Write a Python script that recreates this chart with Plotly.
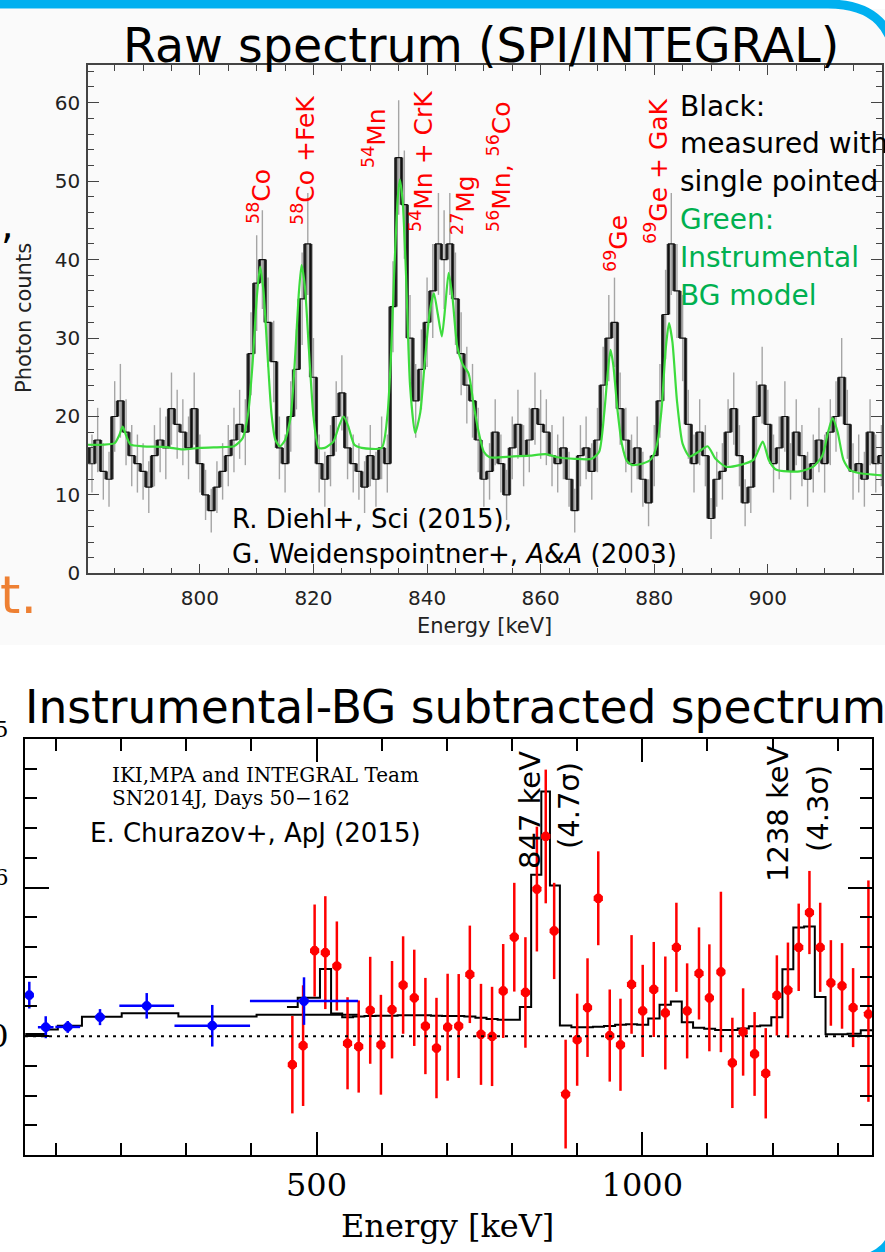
import plotly.graph_objects as go

W, H = 885, 1252

# ---------------- Top panel: raw SPI/INTEGRAL spectrum ----------------
raw_energy_kev = list(range(780, 921))
raw_counts = [
    16, 14, 17, 13, 12, 20, 22, 18, 15, 14,
    13, 11, 15, 17, 16, 21, 19, 18, 16, 21,
    14, 10, 8, 11, 13, 15, 17, 19, 18, 28,
    37, 40, 32, 27, 16, 14, 20, 26, 35, 42,
    25, 14, 12, 15, 20, 23, 16, 14, 13, 11,
    15, 12, 16, 14, 34, 53, 47, 30, 22, 26,
    32, 36, 42, 40, 42, 35, 28, 24, 22, 17,
    12, 13, 18, 14, 10, 16, 19, 15, 17, 21,
    19, 18, 15, 14, 16, 12, 8, 15, 16, 13,
    17, 24, 30, 32, 21, 17, 14, 16, 12, 9,
    15, 22, 33, 42, 36, 30, 19, 14, 18, 15,
    7, 12, 13, 18, 21, 15, 9, 11, 20, 24,
    19, 14, 16, 20, 13, 18, 15, 12, 14, 17,
    14, 18, 20, 25, 19, 13, 14, 12, 18, 14,
    15,
]
raw_err = [
    4.0, 3.7, 4.1, 3.6, 3.5, 4.5, 4.7, 4.2, 3.9, 3.7,
    3.6, 3.3, 3.9, 4.1, 4.0, 4.6, 4.4, 4.2, 4.0, 4.6,
    3.7, 3.2, 2.8, 3.3, 3.6, 3.9, 4.1, 4.4, 4.2, 5.3,
    6.1, 6.3, 5.7, 5.2, 4.0, 3.7, 4.5, 5.1, 5.9, 6.5,
    5.0, 3.7, 3.5, 3.9, 4.5, 4.8, 4.0, 3.7, 3.6, 3.3,
    3.9, 3.5, 4.0, 3.7, 5.8, 7.3, 6.9, 5.5, 4.7, 5.1,
    5.7, 6.0, 6.5, 6.3, 6.5, 5.9, 5.3, 4.9, 4.7, 4.1,
    3.5, 3.6, 4.2, 3.7, 3.2, 4.0, 4.4, 3.9, 4.1, 4.6,
    4.4, 4.2, 3.9, 3.7, 4.0, 3.5, 2.8, 3.9, 4.0, 3.6,
    4.1, 4.9, 5.5, 5.7, 4.6, 4.1, 3.7, 4.0, 3.5, 3.0,
    3.9, 4.7, 5.7, 6.5, 6.0, 5.5, 4.4, 3.7, 4.2, 3.9,
    2.6, 3.5, 3.6, 4.2, 4.6, 3.9, 3.0, 3.3, 4.5, 4.9,
    4.4, 3.7, 4.0, 4.5, 3.6, 4.2, 3.9, 3.5, 3.7, 4.1,
    3.7, 4.2, 4.5, 5.0, 4.4, 3.6, 3.7, 3.5, 4.2, 3.7,
    3.9,
]
bg_model_energy = [
    780, 783, 785, 785.8, 786.4, 787.0, 787.8, 790, 794, 797, 800, 804, 806,
    807.5, 808.5, 809.3, 810.0, 810.6, 811.2, 811.9, 812.6, 813.3, 814.1,
    815, 816.0, 816.8, 817.4, 817.9, 818.5, 819.2, 820.0, 820.9, 822,
    823.5, 824.5, 825.3, 826.1, 827.2, 828.5, 832,
    833.0, 833.6, 834.2, 834.8, 835.2, 835.7, 836.3, 837.0, 837.9,
    838.8, 839.6, 840.5, 841.2, 841.9, 842.6, 843.2, 843.8, 844.5, 845.3,
    846.3, 847.3, 848.2, 849.0, 850.0, 851, 855, 858, 860.9, 863, 866, 869,
    870.3, 871.2, 871.8, 872.3, 872.8, 873.5, 874.3, 875.2, 876.2, 878,
    879.5, 880.5, 881.3, 882.0, 882.6, 883.2, 884.0, 885.0, 886.2, 887.8,
    889.4, 890.8, 892.6, 895, 897.5, 899.1, 900.2, 901.5, 905.6, 908,
    909.6, 910.6, 911.4, 912.3, 913.3, 914.4, 916, 920.1,
]
bg_model_counts = [
    16.4, 16.4, 16.6, 17.6, 18.7, 17.6, 16.4, 16.2, 16.1, 15.8, 16.0, 16.1, 16.2,
    17.2, 20.4, 27.0, 35.0, 39.1, 36.0, 28.0, 20.4, 17.0, 16.2,
    17.0, 20.0, 28.0, 35.5, 39.3, 36.5, 28.5, 20.0, 16.0, 16.0,
    16.8, 18.8, 20.0, 18.8, 16.4, 16.0, 16.0,
    20.0, 27.0, 38.0, 47.5, 50.2, 47.5, 38.0, 24.0, 17.9,
    20.5, 27.0, 33.5, 35.7, 33.0, 30.2, 34.0, 38.3, 35.0, 29.0,
    26.6, 25.5, 21.5, 18.3, 15.5, 14.8, 14.9, 15.0, 15.2, 14.8, 14.6, 14.6,
    15.5, 20.5, 25.5, 28.5, 26.5, 21.0, 16.5, 14.3, 13.8, 14.0,
    14.6, 16.5, 21.0, 28.5, 31.9, 29.5, 22.0, 16.5, 14.9, 15.5,
    16.2, 14.6, 13.6, 13.8, 14.5, 16.8, 14.4, 13.2, 13.0, 13.6,
    15.0, 18.0, 19.8, 18.0, 14.5, 13.2, 12.8, 12.5,
]
top_xticks = [800, 820, 840, 860, 880, 900]
top_yticks = [0, 10, 20, 30, 40, 50, 60]

# ---------------- Bottom panel: background-subtracted spectrum (units 1e-6) ----------------
blue_energy = [59.2, 84.4, 118.2, 167.7, 239.4, 340.0, 480.8]
blue_halfwidth = [6.5, 12, 19, 8, 42, 58, 83]
blue_flux = [1.38, 0.30, 0.31, 0.64, 1.02, 0.35, 1.18]
blue_err = [0.45, 0.37, 0.20, 0.27, 0.43, 0.70, 0.80]

red_energy = [
    462.9, 479.4, 497.1, 513.5, 531.2, 547.6, 564.7, 582.4, 598.8, 615.9,
    632.9, 650.0, 667.1, 684.1, 701.2, 718.2, 735.3, 752.4, 769.4, 786.5,
    803.5, 820.6, 838.2, 851.8, 864.7, 882.3, 900.0, 915.9, 932.4, 950.0,
    966.5, 983.5, 1000.6, 1017.6, 1035.3, 1052.3, 1068.8, 1087.0, 1102.9, 1120.6,
    1138.2, 1154.7, 1172.3, 1189.4, 1206.5, 1223.5, 1240.0, 1256.5, 1273.0, 1289.4,
    1306.5, 1323.5, 1347.0,
]
red_flux = [
    -0.96, -0.32, 2.88, 2.81, 2.36, -0.24, -0.35, 0.87, -0.29, 0.89,
    1.72, 1.29, 0.34, -0.40, 0.30, 0.34, 2.08, 0.06, -0.01, 1.52,
    3.33, 1.47, 4.95, 6.72, 3.54, -1.95, -0.12, 0.96, 4.64, 0.02,
    -0.29, 1.74, 0.85, 1.57, 0.78, 2.99, 0.85, 2.11, 1.29, 2.16,
    -0.90, 0.14, -0.60, -1.25, 1.37, 1.55, 2.99, 4.16, 2.99, 1.79,
    1.69, 0.96, 0.74,
]
red_err_up = [
    1.64, 2.03, 1.55, 1.90, 1.50, 1.55, 1.55, 1.80, 1.68, 1.64,
    1.64, 1.62, 1.62, 1.69, 1.80, 1.75, 1.64, 1.70, 1.67, 1.58,
    1.83, 1.86, 2.10, 2.25, 1.62, 1.83, 1.55, 1.66, 1.58, 1.55,
    1.55, 1.66, 1.55, 1.60, 1.90, 1.50, 1.60, 1.55, 1.80, 2.70,
    1.52, 1.47, 1.41, 1.52, 1.35, 1.60, 1.47, 1.40, 1.50, 1.44,
    1.44, 1.33, 4.50,
]
red_err_down = [
    1.64, 2.03, 1.55, 1.90, 1.50, 1.55, 1.55, 1.80, 1.68, 1.64,
    1.64, 1.62, 1.62, 1.69, 1.80, 1.75, 1.64, 1.70, 1.67, 1.58,
    1.83, 1.86, 2.10, 2.25, 1.62, 1.83, 1.55, 1.66, 1.58, 1.55,
    1.55, 1.66, 1.55, 1.60, 1.90, 1.50, 1.60, 1.55, 1.80, 2.70,
    1.52, 1.47, 1.41, 1.52, 1.35, 1.60, 1.47, 1.40, 1.50, 1.44,
    1.44, 1.33, 2.95,
]
red_model = [
    0.98, 1.29, 1.29, 2.26, 0.76, 0.64, 0.66, 0.68, 0.69, 0.69,
    0.70, 0.70, 0.70, 0.69, 0.68, 0.68, 0.66, 0.62, 0.58, 0.55,
    0.55, 0.98, 5.43, 8.23, 5.07, 0.36, 0.30, 0.30, 0.32, 0.34,
    0.38, 0.40, 0.38, 0.59, 1.06, 1.17, 0.47, 0.28, 0.25, 0.21,
    0.21, 0.26, 0.33, 0.36, 0.64, 2.25, 3.66, 3.69, 1.32, 0.06,
    0.06, 0.08, 0.20,
]
blue_model_edges = [53, 85, 103, 140, 201, 288, 408, 566]
blue_model_flux = [0.07, 0.22, 0.35, 0.65, 0.77, 0.66, 0.72]
bottom_xticks = [500, 1000]
bottom_yticks = [0, 5, 10]
bottom_yticklabels = ["0", "5×10<sup>−6</sup>", "10<sup>−5</sup>"]


def X(px):
    return px / W


def Y(py):
    return 1 - py / H


fig = go.Figure()

# --- top panel traces ---
fig.add_trace(go.Scatter(
    x=raw_energy_kev, y=raw_counts, mode="markers",
    marker=dict(size=1, color="rgba(0,0,0,0)"),
    error_y=dict(type="data", array=raw_err, thickness=1.4, width=0, color="#a5a5a5"),
    xaxis="x", yaxis="y", showlegend=False, hoverinfo="skip"))

edges = [e - 0.5 for e in raw_energy_kev] + [raw_energy_kev[-1] + 0.5]
rx, ry = [], []
for i in range(1, len(raw_counts)):
    rx += [edges[i], edges[i], None]
    ry += [raw_counts[i - 1], raw_counts[i], None]
fig.add_trace(go.Scatter(x=rx, y=ry, mode="lines", line=dict(color="#3a3a3a", width=3.5),
                         xaxis="x", yaxis="y", showlegend=False, hoverinfo="skip"))
fig.add_trace(go.Scatter(x=edges, y=raw_counts + [raw_counts[-1]], mode="lines",
                         line=dict(color="#111111", width=1.2, shape="hv"),
                         xaxis="x", yaxis="y", showlegend=False))
fig.add_trace(go.Scatter(x=bg_model_energy, y=bg_model_counts, mode="lines",
                         line=dict(color="#3ddc3d", width=2.2, shape="spline", smoothing=0.6),
                         xaxis="x", yaxis="y", showlegend=False))

# --- bottom panel traces ---
fig.add_trace(go.Scatter(x=blue_model_edges, y=blue_model_flux + [blue_model_flux[-1]], mode="lines",
                         line=dict(color="black", width=2, shape="hv"),
                         xaxis="x2", yaxis="y2", showlegend=False))
red_edges = [red_energy[0] - (red_energy[1] - red_energy[0]) / 2]
for i in range(len(red_energy) - 1):
    red_edges.append((red_energy[i] + red_energy[i + 1]) / 2)
red_edges.append(red_energy[-1] + (red_energy[-1] - red_energy[-2]) / 2)
fig.add_trace(go.Scatter(x=red_edges, y=red_model + [red_model[-1]], mode="lines",
                         line=dict(color="black", width=2, shape="hv"),
                         xaxis="x2", yaxis="y2", showlegend=False))
fig.add_trace(go.Scatter(
    x=red_energy, y=red_flux, mode="markers",
    marker=dict(symbol="octagon", size=10, color="#ff0000"),
    error_y=dict(type="data", symmetric=False, array=red_err_up, arrayminus=red_err_down,
                 thickness=2.5, width=0, color="#ff0000"),
    xaxis="x2", yaxis="y2", showlegend=False))
fig.add_trace(go.Scatter(
    x=blue_energy, y=blue_flux, mode="markers",
    marker=dict(symbol="octagon", size=10, color="#0000ff"),
    error_y=dict(type="data", array=blue_err, thickness=2.5, width=0, color="#0000ff"),
    error_x=dict(type="data", array=blue_halfwidth, thickness=2.5, width=0, color="#0000ff"),
    xaxis="x2", yaxis="y2", showlegend=False))

top_axis_common = dict(showgrid=False, zeroline=False, showline=True, linecolor="#444444",
                       linewidth=1.5, mirror="allticks", ticks="inside", tickcolor="#444444",
                       tickwidth=1.3, automargin=False,
                       tickfont=dict(family="DejaVu Sans", size=20, color="#222222"))
bot_axis_common = dict(showgrid=False, zeroline=False, showline=True, linecolor="black",
                       linewidth=2, mirror="allticks", ticks="inside", tickcolor="black",
                       tickwidth=2, automargin=False,
                       tickfont=dict(family="DejaVu Serif", size=32, color="black"))

fig.update_layout(
    template="none",
    width=W, height=H, margin=dict(l=0, r=0, t=0, b=0, pad=0, autoexpand=False),
    paper_bgcolor="white", plot_bgcolor="rgba(0,0,0,0)", showlegend=False,
    xaxis=dict(domain=[X(88), X(882)], range=[780.3, 920.1], anchor="y",
               tickvals=top_xticks, ticklen=10, ticklabelstandoff=6,
               minor=dict(dtick=5, ticklen=6, ticks="inside", tickcolor="#444444", tickwidth=1.2),
               **top_axis_common),
    yaxis=dict(domain=[Y(573.4), Y(65)], range=[0, 64.8], anchor="x",
               tickvals=top_yticks, ticklen=11, ticklabelstandoff=2,
               minor=dict(dtick=2, ticklen=6, ticks="inside", tickcolor="#444444", tickwidth=1.2),
               **top_axis_common),
    xaxis2=dict(domain=[X(25), X(872)], range=[52.6, 1352.5], anchor="y2",
                tickvals=bottom_xticks, ticklen=23, ticklabelstandoff=1,
                minor=dict(dtick=100, ticklen=12, ticks="inside", tickcolor="black", tickwidth=2),
                **bot_axis_common),
    yaxis2=dict(domain=[Y(1155), Y(739)], range=[-4, 10], anchor="x2",
                tickvals=bottom_yticks, ticktext=bottom_yticklabels, ticklen=24,
                ticklabelstandoff=8,
                minor=dict(dtick=1, ticklen=12, ticks="inside", tickcolor="black", tickwidth=2),
                **bot_axis_common),
)

shapes = [
    dict(type="rect", xref="paper", yref="paper", x0=0, x1=1, y0=Y(645), y1=Y(9),
         fillcolor="#fafafa", line=dict(width=0), layer="below"),
    dict(type="line", xref="x2 domain", yref="y2", x0=0, x1=1, y0=0, y1=0,
         line=dict(color="black", width=2, dash="3px,5px")),
    dict(type="path", xref="paper", yref="paper",
         path=f"M {X(-10)},{Y(4)} L {X(828)},{Y(4)} Q {X(896)},{Y(4)} {X(896)},{Y(72)} L {X(896)},{Y(400)}",
         line=dict(color="#00b0f0", width=9)),
    dict(type="path", xref="paper", yref="paper",
         path=f"M {X(845)},{Y(1261)} Q {X(897)},{Y(1261)} {X(897)},{Y(1210)}",
         line=dict(color="#00b0f0", width=9)),
]
fig.update_layout(shapes=shapes)


def ann(text, x, y, size, color="black", family="DejaVu Sans", angle=0, xanchor="center", yanchor="middle"):
    return dict(text=text, x=X(x), y=Y(y), xref="paper", yref="paper", showarrow=False,
                font=dict(size=size, color=color, family=family), textangle=angle,
                xanchor=xanchor, yanchor=yanchor)


red = "#ff0000"
green = "#00b050"
annotations = [
    ann("Raw spectrum (SPI/INTEGRAL)", 481, 46, 47.5),
    ann("Instrumental-BG subtracted spectrum", 23, 707, 45.5, xanchor="left"),
    ann("Energy [keV]", 484, 626, 21, color="#222222"),
    ann("Photon counts", 24, 318, 21, color="#222222", angle=-90),
    ann("Energy [keV]", 447, 1226, 32, family="DejaVu Serif"),
    # isotope labels
    ann("<sup>58</sup>Co", 259, 197, 25, color=red, angle=-90),
    ann("<sup>58</sup>Co +FeK", 304, 161, 25, color=red, angle=-90),
    ann("<sup>54</sup>Mn", 374, 138, 25, color=red, angle=-90),
    ann("<sup>54</sup>Mn + CrK", 422, 162, 25, color=red, angle=-90),
    ann("<sup>27</sup>Mg", 463, 205, 25, color=red, angle=-90),
    ann("<sup>56</sup>Mn, <sup>56</sup>Co", 500, 167, 25, color=red, angle=-90),
    ann("<sup>69</sup>Ge", 617, 244, 25, color=red, angle=-90),
    ann("<sup>69</sup>Ge + GaK", 656, 171, 25, color=red, angle=-90),
    # legend-like notes
    ann("Black:", 678, 106, 28, xanchor="left"),
    ann("measured with", 678, 144, 28, xanchor="left"),
    ann("single pointed", 678, 182, 28, xanchor="left"),
    ann("Green:", 678, 220, 28, color=green, xanchor="left"),
    ann("Instrumental", 678, 258, 28, color=green, xanchor="left"),
    ann("BG model", 678, 296, 28, color=green, xanchor="left"),
    # citations
    ann("R. Diehl+, Sci (2015),", 230, 519, 26, xanchor="left"),
    ann("G. Weidenspointner+, <i>A&amp;A</i> (2003)", 230, 554, 26, xanchor="left"),
    ann("IKI,MPA and INTEGRAL Team", 110, 775, 20, family="DejaVu Serif", xanchor="left"),
    ann("SN2014J, Days 50−162", 110, 798, 20, family="DejaVu Serif", xanchor="left"),
    ann("E. Churazov+, ApJ (2015)", 88, 833, 26, xanchor="left"),
    # line labels
    ann("847 keV", 530, 810, 29, angle=-90),
    ann("(4.7σ)", 569, 806, 29, angle=-90),
    ann("1238 keV", 778, 814, 29, angle=-90),
    ann("(4.3σ)", 818, 809, 29, angle=-90),
    # slide fragments at the left edge
    ann("t.", -2, 595, 52, color="#ee8033", xanchor="left"),
    ann(",", 7, 224, 40),
]
fig.update_layout(annotations=annotations)

fig.write_html("out.html")
